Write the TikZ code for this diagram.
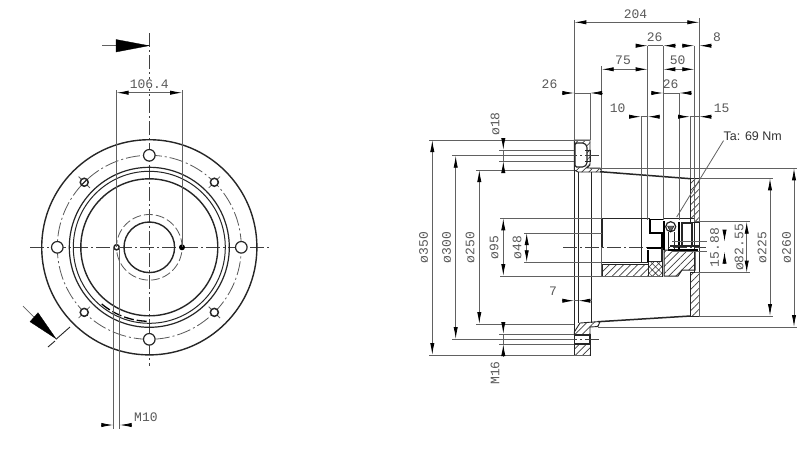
\documentclass[tikz,border=0pt]{standalone}
\usepackage{fontspec}
\setmainfont{Liberation Sans}
\newfontfamily\cadfont{Liberation Mono}
\usetikzlibrary{arrows.meta,patterns.meta}
\definecolor{thinline}{gray}{0.38}
\definecolor{txt}{gray}{0.35}
\tikzset{
  dimtip/.tip={Latex[length=12pt,width=4.2pt,color=black]},
  thinl/.style={draw=thinline,line width=.8pt},
  thick1/.style={draw=black!85,line width=1.1pt},
  thick2/.style={draw=black,line width=1.9pt},
  centerl/.style={draw=black!75,line width=.8pt,dash pattern=on 14pt off 3pt on 2pt off 3pt},
  hidden/.style={draw=black!65,line width=.8pt,dash pattern=on 9pt off 3pt},
  dimin/.style={thinl,dimtip-dimtip},
  dimleft/.style={thinl,-dimtip},
  lab/.style={text=txt,font=\cadfont\fontsize{13}{13}\selectfont,inner sep=0pt},
  labv/.style={lab,rotate=90},
  hatch/.style={draw=black!85,line width=1pt,pattern={Lines[angle=45,distance=5pt,line width=.7pt]},pattern color=black!75},
  cross/.style={draw=black!85,line width=1pt,pattern={Hatch[angle=45,distance=4.5pt,line width=.6pt]},pattern color=black!75},
  solidtip/.style={fill=black,draw=black,line width=.3pt},
}
\begin{document}
\begin{tikzpicture}[x=1pt,y=-1pt]
\useasboundingbox (0,0) rectangle (800,464);
\fill[white] (0,0) rectangle (800,464);

%% ---------- LEFT VIEW ----------
\coordinate (c) at (149.3,247.3);
\draw[centerl] (149.3,33) -- (149.3,366);
\draw[centerl] (30,247.3) -- (270,247.3);
\begin{scope}[shift={(c)}]
  \draw[thick1,line width=1.4pt] (0,0) circle[radius=107.6pt];
  \draw[hidden,dash pattern=on 14pt off 3pt on 2pt off 3pt] (0,0) circle[radius=92pt];
  \draw[thick1,line width=1.2pt] (0,0) circle[radius=80pt];
  \draw[thick1,line width=1pt] (0,0) circle[radius=76pt];
  \draw[thick1,line width=1.4pt] (0,0) circle[radius=68.5pt];
  \draw[thick1,line width=1.4pt] (0,0) circle[radius=25.3pt];
  \draw[hidden] (0,0) circle[radius=32.8pt];
  \draw[thick2,line width=1.3pt,dash pattern=on 10pt off 3pt] (230:74pt) arc[start angle=230,end angle=268,radius=74pt];
  \foreach \a in {0,90,180,270}{
    \draw[fill=white,thick1,line width=1.2pt] (\a:92) circle[radius=5.8pt];
  }
  \foreach \a in {45,135,225,315}{
    \draw[thinl] (\a:84) -- (\a:100);
    \draw[fill=white,thick1,line width=1.5pt] (\a:92) circle[radius=4pt];
  }
  \draw[thick1] (225:92)++(-2.5,2.5) -- ++(5,-5);
  \draw[fill=white,thick1,line width=1.5pt] (-32.7,0) circle[radius=2.6pt];
  \fill[black] (32.7,0) circle[radius=3pt];
\end{scope}
% section arrows
\draw[thinl] (102,45.7) -- (149.3,45.7);
\draw[solidtip] (116,39.5) -- (149,45.7) -- (116,52) -- cycle;
\draw[thinl,line width=.7pt] (23,306) -- (34,317);
\draw[solidtip] (30,321.7) -- (38,312.7) -- (56,338.7) -- cycle;
\draw[thick1,line width=.9pt] (70,327) -- (56,339.3);
\draw[thick1,line width=.9pt] (55,341) -- (48,347);
% dim 106.4
\coordinate (e1) at (116.5,90);\coordinate (e2) at (182.2,90);
\draw[thinl] (e1) -- (116.5,247.3);
\draw[thinl] (e2) -- (182.2,247.3);
\draw[dimin] (116.5,92.7) -- (182.2,92.7);
\node[lab,fill=white,inner sep=.5pt] (l1064) at (149.3,84) {106.4};
% M10
\draw[thinl] (113.3,247.3) -- (113.3,429);
\draw[thinl] (119.7,247.3) -- (119.7,429);
\draw[dimleft] (101,425) -- (113.3,425);
\draw[dimleft] (132,425) -- (119.7,425);
\node[lab,anchor=west] (lm10) at (134,417) {M10};

%% ---------- RIGHT VIEW : hatched sections ----------
% top flange
\draw[hatch,line width=.9pt] (574.3,140) -- (590,140) -- (590,165) -- (587,168) -- (600,168) -- (602,172) -- (578,172) -- (574.3,170) -- cycle;
\draw[fill=white,thick1,rounded corners=1.5pt] (575,143) -- (584,143) -- (587,146) -- (587,164) -- (584,167) -- (575,167) -- cycle;
\draw[thick1,line width=.8pt] (585,150) -- (590,150) -- (590,161) -- (585,161);
% bottom flange
\draw[hatch,line width=.9pt] (574.3,335) -- (574.3,332) -- (580,323) -- (600,321.5) -- (598,326.5) -- (590,327) -- (590,335) -- cycle;
\draw[hatch] (574.3,344) rectangle (590,355);
\draw[thick1] (574.3,335) rectangle (590,344);
% hub hatches
\draw[hatch] (602,264.5) rectangle (648,276);
\draw[cross] (648,261) rectangle (662,276);
\draw[hatch] (664,250) -- (695,250) -- (695,270) -- (682,270) -- (678,276) -- (664,276) -- cycle;
% wall hatches
\draw[hatch] (690.5,178.5) rectangle (699.3,222);
\draw[hatch] (690.5,272) rectangle (699.3,316);

%% ---------- RIGHT VIEW : body lines ----------
\draw[thinl] (574.3,20) -- (574.3,355);
\draw[thinl] (699.3,18) -- (699.3,316);
\draw[thick1,line width=.8pt] (574.3,140) -- (574.3,355);
\draw[thick1,line width=.8pt] (578,172) -- (578,323);
\draw[thick1,line width=1.3pt] (591.7,172) -- (591.7,323);
\draw[thinl] (601.7,66) -- (601.7,276);
\draw[thick1,line width=1.5pt] (600,171.7) -- (690.5,178.7);
\draw[thick1,line width=1.5pt] (598,321.7) -- (690.5,316);
\draw[thick1] (694.5,222) -- (694.5,272);
\draw[thick1] (699.3,222) -- (699.3,272);
\draw[centerl] (563,155.5) -- (602,155.5);
\draw[centerl] (563,339.5) -- (602,339.5);
\draw[centerl] (563,247) -- (706,247);

% hub
\draw[thick1] (602,218.3) -- (650,218.3);
\draw[thick1,line width=1.5pt] (602,218.3) -- (602,247);
\draw[thick1,line width=.9pt] (574.3,262.3) -- (648,262.3);
\draw[thick1,line width=.9pt] (574.3,233) -- (602,233);
\draw[thick1,line width=.9pt] (641,218) -- (641,262);
\draw[thick2] (664,219.5) -- (650,219.5) -- (650,233) -- (662,233) -- (662,248) -- (647,248);
\draw[thick2] (648,250) -- (648,262);
\draw[thick1] (664,218.3) -- (695,218.3);
\draw[thick1] (662,248) -- (662,262);
\draw[fill=white,thick1,line width=1.2pt] (670.7,226.7) circle[radius=5pt];
\draw[black,fill=black!60,line width=.4pt] (667.5,226) -- (674,226) -- (670.7,232) -- cycle;
\draw[thick2,line width=1.5pt] (664,221) -- (664,250);
\draw[thick2,line width=1.5pt] (679,222) -- (679,250);
\draw[thick1,line width=.9pt] (668,232) -- (668,250);
\draw[thick1,line width=.9pt] (674,232) -- (674,250);
\draw[thick1] (682,223) rectangle (692,246);
\draw[thick2,line width=1.4pt] (668,250) -- (698,250);
\draw[thick1] (670,246) -- (700,246);

%% ---------- DIMENSIONS ----------
% 204
\draw[dimin] (574.3,22.3) -- (699.3,22.3);
\node[lab] (l204) at (635.5,14) {204};
% extension lines top
\draw[thinl] (647.7,45.7) -- (647.7,220);
\draw[thinl] (663.3,45.7) -- (663.3,220);
\draw[thinl] (679.3,93) -- (679.3,220);
\draw[thinl] (641,116.7) -- (641,218);
\draw[thinl] (690,116.7) -- (690,178);
\draw[thinl] (694.3,45.7) -- (694.3,222);
\draw[thinl] (590,93) -- (590,140);
% 26 top
\draw[dimleft] (635.7,45.7) -- (647.7,45.7);
\draw[thinl] (647.7,45.7) -- (663.3,45.7);
\draw[dimleft] (676,45.7) -- (663.3,45.7);
\node[lab] (l26a) at (654.7,37.5) {26};
% 8
\draw[dimleft] (681.7,45.7) -- (694.3,45.7);
\draw[dimleft] (711.7,45.7) -- (699.3,45.7);
\node[lab] (l8) at (717,37) {8};
% 75
\draw[dimin] (601.7,69.3) -- (647.7,69.3);
\node[lab] (l75) at (623,60.5) {75};
% 50
\draw[dimin] (663.3,69.3) -- (694.3,69.3);
\node[lab] (l50) at (677.7,60.5) {50};
% 26 mid
\draw[dimleft] (651,93) -- (663.3,93);
\draw[thinl] (663.3,93) -- (679.3,93);
\draw[dimleft] (692,93) -- (679.3,93);
\node[lab] (l26b) at (670.7,84.5) {26};
% 26 left
\draw[dimleft] (561.7,93) -- (574.3,93);
\draw[thinl] (574.3,93) -- (590,93);
\draw[dimleft] (602.3,93) -- (590,93);
\node[lab] (l26c) at (549.5,84.5) {26};
% 10
\draw[dimleft] (629.3,116.7) -- (641,116.7);
\draw[thinl] (641,116.7) -- (647.7,116.7);
\draw[dimleft] (660,116.7) -- (647.7,116.7);
\node[lab] (l10) at (617.7,108) {10};
% 15
\draw[dimleft] (677.7,116.7) -- (690,116.7);
\draw[thinl] (690,116.7) -- (699.3,116.7);
\draw[dimleft] (711.7,116.7) -- (699.3,116.7);
\node[lab] (l15) at (721.7,108) {15};
% Ta
\node[anchor=west,inner sep=0pt,text=black!80,font=\fontsize{12.5}{13}\selectfont] (lta) at (723.5,136) {Ta: 69 Nm};
\draw[thinl] (lta.south west) -- (676.7,217);

% horizontal extensions left
\draw[thinl] (429,140) -- (590,140);
\draw[thinl] (429,355) -- (590,355);
\draw[thinl] (452,155.7) -- (574.3,155.7);
\draw[thinl] (452,339) -- (574.3,339);
\draw[thinl] (476,170) -- (574.3,170);
\draw[thinl] (476,324) -- (574.3,324);
\draw[thinl] (499,150) -- (574.3,150);
\draw[thinl] (499,161) -- (574.3,161);
\draw[thinl] (499,334) -- (574.3,334);
\draw[thinl] (499,344) -- (574.3,344);
\draw[thinl] (500,218.3) -- (602,218.3);
\draw[thinl] (500,276) -- (662,276);
\draw[thinl] (524,233) -- (602,233);
\draw[thinl] (524,262.3) -- (602,262.3);
% big diameters
\draw[dimin] (432.3,140) -- (432.3,355);
\node[labv] (l350) at (423.5,247.5) {ø350};
\draw[dimin] (455.7,155.7) -- (455.7,339);
\node[labv] (l300) at (446.5,247.5) {ø300};
\draw[dimin] (479.3,170) -- (479.3,324);
\node[labv] (l250) at (470,247.5) {ø250};
\draw[dimin] (503.3,218.3) -- (503.3,276);
\node[labv] (l95) at (494,247.5) {ø95};
\draw[dimin] (526.7,233) -- (526.7,262.3);
\node[labv] (l48) at (517,247.5) {ø48};
% 18
\draw[dimleft] (503.3,139) -- (503.3,150);
\draw[dimleft] (503.3,172) -- (503.3,161);
\draw[thinl] (503.3,150) -- (503.3,161);
\node[labv] (l18) at (495,124) {ø18};
% M16
\draw[dimleft] (503.3,322) -- (503.3,334);
\draw[dimleft] (503.3,356) -- (503.3,344);
\draw[thinl] (503.3,334) -- (503.3,344);
\node[labv] (lm16) at (495,373) {M16};
% 7
\draw[dimleft] (561.7,300.7) -- (574.3,300.7);
\draw[thinl] (574.3,300.7) -- (578.3,300.7);
\draw[dimleft] (591.7,300.7) -- (578.3,300.7);
\node[lab] (l7) at (553,291) {7};
% right diameters
\draw[thinl] (590,168.3) -- (797,168.3);
\draw[thinl] (598,327) -- (797,327);
\draw[thinl] (699.3,178.3) -- (773,178.3);
\draw[thinl] (699.3,316) -- (773,316);
\draw[dimin] (770,178.3) -- (770,316);
\node[labv] (l225) at (762,247.5) {ø225};
\draw[dimin] (794,168.3) -- (794,327);
\node[labv] (l260) at (786.5,247.5) {ø260};
% 82.55
\draw[thinl] (695,221.7) -- (750,221.7);
\draw[thinl] (695,272.7) -- (750,272.7);
\draw[dimin] (746.7,221.7) -- (746.7,272.7);
\node[labv] (l8255) at (739,247.5) {ø82.55};
% 15.88
\draw[thinl] (672,241.7) -- (707,241.7);
\draw[thinl] (672,251.7) -- (707,251.7);
\draw[dimleft] (724.5,230) -- (724.5,241.7);
\draw[dimleft] (724.5,264) -- (724.5,251.7);
\node[labv] (l1588) at (714.5,247.5) {15.88};
\end{tikzpicture}
\end{document}
